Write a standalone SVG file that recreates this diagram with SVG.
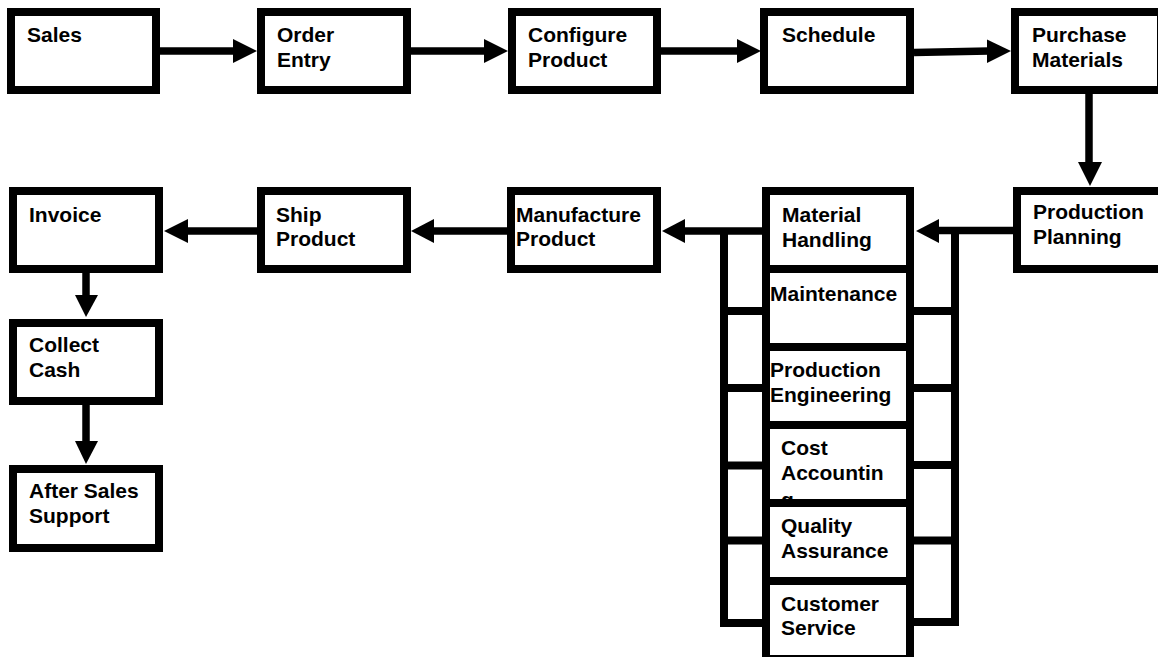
<svg xmlns="http://www.w3.org/2000/svg" width="1158" height="657" viewBox="0 0 1158 657">
<style>
.box{fill:#fff;stroke:#000;stroke-width:8}
.t{font-family:"Liberation Sans",Arial,sans-serif;font-weight:bold;font-size:21px;fill:#000}
.ln{stroke:#000;stroke-width:7.5;fill:none}
.br{stroke:#000;stroke-width:8;fill:none;stroke-linejoin:miter}
.hd{fill:#000}
</style>
<rect width="1158" height="657" fill="#fff"/>
<g id="connectors">
<line class="ln" x1="160" y1="51" x2="235" y2="51"/><polygon class="hd" points="233,39 257,51 233,63"/>
<line class="ln" x1="411" y1="51" x2="486" y2="51"/><polygon class="hd" points="484,39 508,51 484,63"/>
<line class="ln" x1="661" y1="51" x2="739" y2="51"/><polygon class="hd" points="737,39 761,51 737,63"/>
<line class="ln" x1="914" y1="52.5" x2="989" y2="51"/><polygon class="hd" points="987,39.5 1011,51 987,63"/>
<line class="ln" x1="1089" y1="94" x2="1089" y2="164"/><polygon class="hd" points="1078,162 1090,186 1102,162"/>
<line class="ln" x1="1013" y1="230.5" x2="937" y2="230.5"/><polygon class="hd" points="939,219 916,231 939,243"/>
<line class="ln" x1="762" y1="231" x2="683" y2="231"/><polygon class="hd" points="685,219 662,231 685,243"/>
<line class="ln" x1="507" y1="231" x2="432" y2="231"/><polygon class="hd" points="434,219 411,231 434,243"/>
<line class="ln" x1="257" y1="231" x2="186" y2="231"/><polygon class="hd" points="188,219 164,231 188,243"/>
<line class="ln" x1="86" y1="273" x2="86" y2="297"/><polygon class="hd" points="75,295 86,317 98,295"/>
<line class="ln" x1="86" y1="405" x2="86" y2="443"/><polygon class="hd" points="75,441 86,464 98,441"/>
<path class="br" d="M724,231 V623 H762"/>
<line class="br" x1="724" y1="311" x2="762" y2="311"/>
<line class="br" x1="724" y1="388" x2="762" y2="388"/>
<line class="br" x1="724" y1="465.5" x2="762" y2="465.5"/>
<line class="br" x1="724" y1="540.5" x2="762" y2="540.5"/>
<path class="br" d="M955,230 V622 H914"/>
<line class="br" x1="914" y1="311" x2="955" y2="311"/>
<line class="br" x1="914" y1="388" x2="955" y2="388"/>
<line class="br" x1="914" y1="465" x2="955" y2="465"/>
<line class="br" x1="914" y1="540.5" x2="955" y2="540.5"/>
</g>
<g id="sales"><rect class="box" x="11" y="12" width="145" height="78"/><text class="t" x="27" y="42">Sales</text></g>
<g id="order-entry"><rect class="box" x="261" y="12" width="146" height="78"/><text class="t" x="277" y="42">Order</text><text class="t" x="277" y="67">Entry</text></g>
<g id="configure-product"><rect class="box" x="512" y="12" width="145" height="78"/><text class="t" x="528" y="42">Configure</text><text class="t" x="528" y="67">Product</text></g>
<g id="schedule"><rect class="box" x="764" y="12" width="146" height="78"/><text class="t" x="782" y="42">Schedule</text></g>
<g id="purchase-materials"><rect class="box" x="1015" y="12" width="146" height="78"/><text class="t" x="1032" y="42">Purchase</text><text class="t" x="1032" y="67">Materials</text></g>
<g id="production-planning"><rect class="box" x="1017" y="191" width="146" height="78"/><text class="t" x="1033" y="219">Production</text><text class="t" x="1033" y="244">Planning</text></g>
<g id="material-handling"><rect class="box" x="766" y="191" width="144" height="78"/><text class="t" x="782" y="222">Material</text><text class="t" x="782" y="246.5">Handling</text></g>
<g id="maintenance"><rect class="box" x="766" y="269" width="144" height="79"/><text class="t" x="770" y="301">Maintenance</text></g>
<g id="production-engineering"><rect class="box" x="766" y="347" width="144" height="79"/><text class="t" x="770" y="377">Production</text><text class="t" x="770" y="402">Engineering</text></g>
<g id="cost-accounting"><rect class="box" x="766" y="425" width="144" height="79"/><text class="t" x="781" y="455">Cost</text><text class="t" x="781" y="480">Accountin</text><text class="t" x="781" y="506.5">g</text></g>
<g id="quality-assurance"><rect class="box" x="766" y="503" width="144" height="79"/><text class="t" x="781" y="533">Quality</text><text class="t" x="781" y="557.5">Assurance</text></g>
<g id="customer-service"><rect class="box" x="766" y="581" width="144" height="78"/><text class="t" x="781" y="611">Customer</text><text class="t" x="781" y="635">Service</text></g>
<g id="manufacture-product"><rect class="box" x="511" y="191" width="146" height="78"/><text class="t" x="516" y="222">Manufacture</text><text class="t" x="516" y="246">Product</text></g>
<g id="ship-product"><rect class="box" x="261" y="191" width="146" height="78"/><text class="t" x="276" y="222">Ship</text><text class="t" x="276" y="246">Product</text></g>
<g id="invoice"><rect class="box" x="13" y="191" width="146" height="78"/><text class="t" x="29" y="222">Invoice</text></g>
<g id="collect-cash"><rect class="box" x="13" y="323" width="146" height="78"/><text class="t" x="29" y="352">Collect</text><text class="t" x="29" y="377">Cash</text></g>
<g id="after-sales-support"><rect class="box" x="13" y="469" width="146" height="79"/><text class="t" x="29" y="498">After Sales</text><text class="t" x="29" y="523">Support</text></g>
</svg>
